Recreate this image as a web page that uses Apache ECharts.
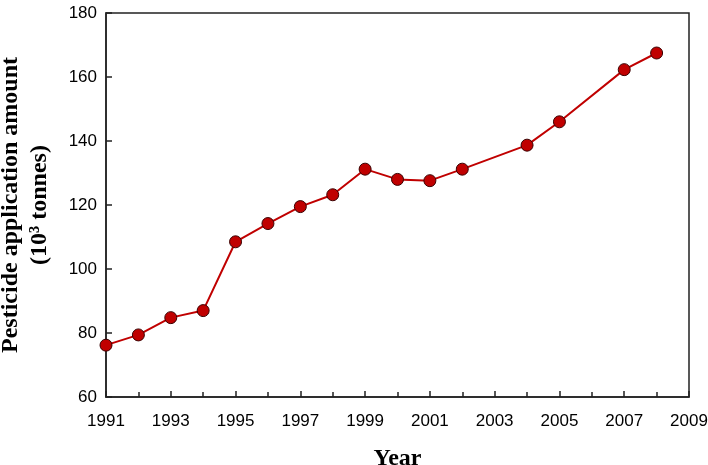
<!DOCTYPE html>
<html>
<head>
<meta charset="utf-8">
<script src="https://cdn.jsdelivr.net/npm/echarts@6/dist/echarts.min.js"></script>
<style>
  html, body { margin: 0; padding: 0; background: #fff; }
  #chart { width: 708px; height: 465px; }
</style>
</head>
<body>
<div id="chart"></div>
<script>
// data
const startYear = 1991;
const years = [1991, 1992, 1993, 1994, 1995, 1996, 1997, 1998, 1999, 2000, 2001, 2002, 2004, 2005, 2007, 2008];
const amounts = [76.2, 79.4, 84.8, 87.0, 108.5, 114.2, 119.5, 123.2, 131.2, 128.0, 127.6, 131.2, 138.7, 146.0, 162.3, 167.5];
const yTicks = [60, 80, 100, 120, 140, 160, 180];

const chart = echarts.init(document.getElementById('chart'));

const axisColor = '#222';
const serif = '"Liberation Serif", "Times New Roman", serif';
const sans = '"Liberation Sans", Arial, sans-serif';

chart.setOption({
  animation: false,
  grid: {
    left: 106,
    right: 19,
    top: 13,
    bottom: 68,
    outerBoundsMode: 'none',
    containLabel: false,
    show: true,
    borderColor: axisColor,
    borderWidth: 1.5,
    backgroundColor: 'transparent',
  },
  xAxis: {
    type: 'value',
    min: 0,
    max: 18,
    interval: 2,
    name: 'Year',
    nameLocation: 'middle',
    nameGap: 50,
    nameTextStyle: { fontFamily: serif, fontWeight: 'bold', fontSize: 24, color: '#000' },
    axisLine: { show: true, lineStyle: { color: axisColor, width: 1.5 } },
    axisTick: { show: true, inside: true, length: 6, lineStyle: { color: axisColor, width: 1.5 } },
    minorTick: { show: true, splitNumber: 2, length: 5, lineStyle: { color: axisColor, width: 1.5 } },
    splitLine: { show: false },
    axisLabel: {
      margin: 16,
      fontFamily: sans,
      fontSize: 17,
      color: '#000',
      formatter: v => String(v + startYear),
    },
  },
  yAxis: {
    type: 'value',
    min: yTicks[0],
    max: yTicks[yTicks.length - 1],
    interval: 20,
    axisLine: { show: true, lineStyle: { color: axisColor, width: 1.5 } },
    axisTick: { show: true, inside: true, length: 6, lineStyle: { color: axisColor, width: 1.5 } },
    splitLine: { show: false },
    axisLabel: { margin: 9, fontFamily: sans, fontSize: 17, color: '#000' },
  },
  graphic: [
    {
      type: 'text',
      x: 25,
      y: 205,
      rotation: Math.PI / 2,
      style: {
        text: 'Pesticide application amount\n(10³ tonnes)',
        fontFamily: serif,
        fontWeight: 'bold',
        fontSize: 24,
        lineHeight: 29,
        fill: '#000',
        align: 'center',
        verticalAlign: 'middle',
      },
    },
  ],
  series: [
    {
      type: 'line',
      data: years.map((y, i) => [y - startYear, amounts[i]]),
      symbol: 'circle',
      symbolSize: 12,
      lineStyle: { color: '#c00000', width: 2 },
      itemStyle: { color: '#c00000', borderColor: '#3a0000', borderWidth: 1 },
    },
  ],
});
</script>
</body>
</html>
